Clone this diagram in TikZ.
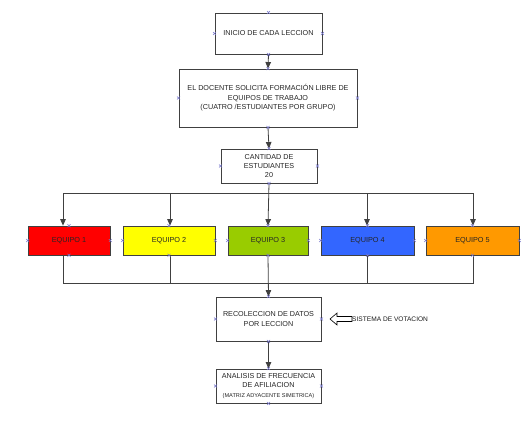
\documentclass[tikz,border=0pt]{standalone}
\usepackage{fontspec}
\setmainfont{Liberation Sans}
\usetikzlibrary{arrows.meta,calc}
\definecolor{eqred}{HTML}{FF0000}
\definecolor{eqyellow}{HTML}{FFFF00}
\definecolor{eqgreen}{HTML}{99CC00}
\definecolor{eqblue}{HTML}{3366FF}
\definecolor{eqorange}{HTML}{FF9900}
\definecolor{edgegray}{HTML}{404040}
\definecolor{markblue}{HTML}{7777CC}
\tikzset{
  procbox/.style={draw=edgegray, line width=0.9pt, fill=white, align=center, inner sep=1pt,
    font=\fontsize{7.2}{9.4}\selectfont, text=black!85},
  teambox/.style={draw=edgegray, line width=0.7pt, align=center, inner sep=1pt,
    minimum height=29pt, font=\fontsize{7.3}{9}\selectfont, text=black!85},
  conn/.style={draw=edgegray, line width=0.8pt},
  arr/.style={conn, -{Triangle[length=6.5pt,width=5.5pt]}},
  mk/.style={draw=markblue, line width=0.5pt}
}
\begin{document}
\begin{tikzpicture}[x=1pt,y=-1pt]
\useasboundingbox (0,0) rectangle (525,423);
% main boxes
\node[procbox, minimum width=107pt, minimum height=41pt] (b1) at (268.5,33.5) {INICIO DE CADA LECCION};
\node[procbox, minimum width=178pt, minimum height=58pt] (b2) at (268,98)
  {EL DOCENTE SOLICITA FORMACIÓN LIBRE DE\\EQUIPOS DE TRABAJO\\(CUATRO /ESTUDIANTES POR GRUPO)};
\node[procbox, minimum width=96pt, minimum height=34pt] (b3) at (269,166) {CANTIDAD DE\\ESTUDIANTES\\20};
% team boxes
\node[teambox, fill=eqred, minimum width=82pt] (e1) at (69,240.5) {EQUIPO 1};
\node[teambox, fill=eqyellow, minimum width=92pt] (e2) at (169,240.5) {EQUIPO 2};
\node[teambox, fill=eqgreen, minimum width=80pt] (e3) at (268,240.5) {EQUIPO 3};
\node[teambox, fill=eqblue, minimum width=93pt] (e4) at (367.5,240.5) {EQUIPO 4};
\node[teambox, fill=eqorange, minimum width=93pt] (e5) at (472.5,240.5) {EQUIPO 5};
% lower boxes
\node[procbox, minimum width=105pt, minimum height=44pt] (b4) at (268.5,319) {RECOLECCION DE DATOS\\POR LECCION};
\node[procbox, minimum width=105pt, minimum height=34pt] (b5) at (268.5,386)
  {ANALISIS DE FRECUENCIA\\DE AFILIACION\\{\fontsize{5.6}{7}\selectfont (MATRIZ ADYACENTE SIMETRICA)}};
% junction coordinates
\coordinate (t1) at (63,193);
\coordinate (t2) at (170,193);
\coordinate (t4) at (367,193);
\coordinate (t5) at (473,193);
\coordinate (u1) at (63,283);
\coordinate (u2) at (170,283);
\coordinate (u3) at (268,283);
\coordinate (u4) at (367,283);
\coordinate (u5) at (473,283);
% connectors
\draw[arr] (b1.south) -- (b2.north);
\draw[arr] (b2.south) -- (b3.north);
\draw[arr] (b3.south) -- (e3.north);
\draw[conn] (t1) -- (t5);
\draw[arr] (t1) -- (t1 |- e1.north);
\draw[arr] (t2) -- (t2 |- e2.north);
\draw[arr] (t4) -- (t4 |- e4.north);
\draw[arr] (t5) -- (t5 |- e5.north);
\draw[conn] (u1 |- e1.south) -- (u1) -- (u5) -- (u5 |- e5.south);
\draw[conn] (u2 |- e2.south) -- (u2);
\draw[conn] (u4 |- e4.south) -- (u4);
\draw[arr] (e3.south) -- (b4.north);
\draw[arr] (b4.south) -- (b5.north);
% open arrow with label
\node[anchor=west, inner sep=0pt, font=\fontsize{6.6}{8}\selectfont, text=black!90] (sv) at (352,319) {SISTEMA DE VOTACION};
\draw[draw=black, line width=0.6pt, fill=white]
  (330,319) -- (337,313) -- (337,316.5) -- (sv.west |- 0,316.5) -- (sv.west |- 0,321.5)
  -- (337,321.5) -- (337,325) -- cycle;
% connection markers
\foreach \n in {b1,b2,b3,b4,b5,e1,e2,e3,e4,e5}{
  \foreach \a in {north,south,east,west}{
    \draw[mk] ($(\n.\a)+(-1.5,-1.5)$) -- ++(3,3) ($(\n.\a)+(-1.5,1.5)$) -- ++(3,-3);
  }
}
\end{tikzpicture}
\end{document}
